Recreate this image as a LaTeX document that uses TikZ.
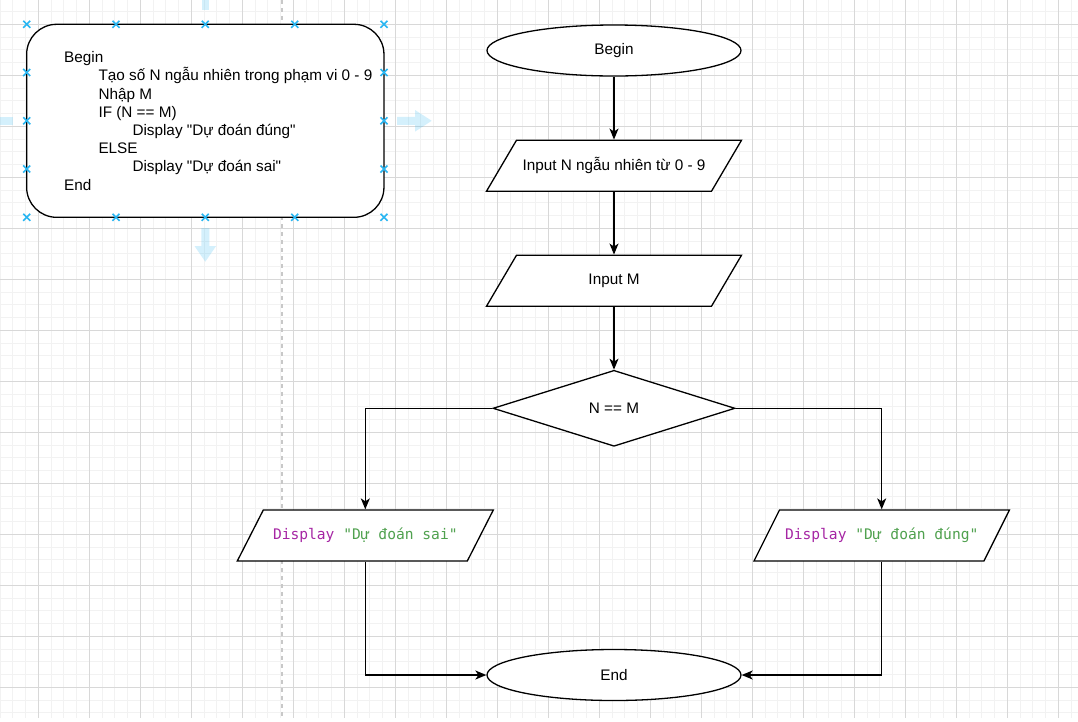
\documentclass[tikz,border=0pt]{standalone}
\usepackage{fontspec}
\setmainfont{Liberation Sans}[Ligatures=TeXOff]
\setmonofont{DejaVu Sans Mono}
\usetikzlibrary{shapes.geometric,arrows.meta}

\definecolor{gridminor}{RGB}{242,242,242}
\definecolor{gridmajor}{RGB}{216,216,216}
\definecolor{pagebreak}{RGB}{200,200,200}
\definecolor{selblue}{RGB}{41,182,242}
\definecolor{kwpurple}{RGB}{166,38,164}
\definecolor{strgreen}{RGB}{80,161,79}

\tikzset{
  every node/.style={font=\fontsize{15.3pt}{18.2pt}\selectfont},
  shapeline/.style={draw=black, line width=1.3pt, line join=miter},
  termnode/.style={shapeline, ellipse, fill=white, minimum width=254pt, minimum height=51pt, inner sep=0pt},
  decnode/.style={shapeline, diamond, fill=white, minimum width=242pt, minimum height=76pt, inner sep=0pt},
  paratext/.style={minimum height=51pt, inner sep=0pt, outer sep=0.65pt},
  conn/.style={draw=black, line width=1.3pt, -{Stealth[length=11pt,width=9pt,inset=3pt]}},
  linetext/.style={anchor=base west, inner sep=0pt},
  selcross/.style={draw=selblue, line width=1.6pt},
  hoverarrow/.style={fill=selblue, fill opacity=0.2},
}

% parallelogram (input/output box): name, centre, half width, slant, text
\newcommand{\flowpara}[5]{%
  \filldraw[shapeline, fill=white]
    ([shift={(-#3,25.5)}]#2) -- ([shift={(-#3+#4,-25.5)}]#2) --
    ([shift={(#3,-25.5)}]#2) -- ([shift={(#3-#4,25.5)}]#2) -- cycle;
  \node[paratext, minimum width=#3*2pt] (#1) at (#2) {#5};
}
\newcommand{\codeline}[2]{{\ttfamily\fontsize{14.6pt}{18pt}\selectfont\textcolor{kwpurple}{#1} \textcolor{strgreen}{#2}}}

\begin{document}
\begin{tikzpicture}[x=1pt, y=-1pt]
\useasboundingbox (0,0) rectangle (1078,721);
\fill[white] (0,0) rectangle (1078,721);

% canvas grid
\begin{scope}
  \clip (0,0) rectangle (1078,718);
  \foreach \i in {-3,...,81} {
    \pgfmathsetmacro\gx{38.3+12.75*\i}
    \draw[gridminor, line width=1pt] (\gx,0) -- (\gx,718);
  }
  \foreach \j in {-1,...,54} {
    \pgfmathsetmacro\gy{24.3+12.75*\j}
    \draw[gridminor, line width=1pt] (0,\gy) -- (1078,\gy);
  }
  \foreach \i in {0,...,20} {
    \pgfmathsetmacro\gx{38.3+51*\i}
    \draw[gridmajor, line width=1pt] (\gx,0) -- (\gx,718);
  }
  \foreach \j in {0,...,13} {
    \pgfmathsetmacro\gy{24.3+51*\j}
    \draw[gridmajor, line width=1pt] (0,\gy) -- (1078,\gy);
  }
\end{scope}

% page break
\draw[pagebreak, line width=1.5pt, dash pattern=on 4pt off 4pt] (282,0) -- (282,718);

% hover arrows around the selected box
\fill[hoverarrow] (201.5,0) rectangle (208.5,10);
\fill[hoverarrow] (0,116.8) rectangle (12.7,124.8);
\fill[hoverarrow] (397,116.8) -- (415,116.8) -- (415,110) -- (431.7,120.8)
  -- (415,131.6) -- (415,124.8) -- (397,124.8) -- cycle;
\fill[hoverarrow] (201.3,228) -- (201.3,246) -- (194.5,246) -- (205.3,261.7)
  -- (216.1,246) -- (209.3,246) -- (209.3,228) -- cycle;

% pseudocode box
\node[draw=black, line width=1.3pt, fill=white, rounded corners=30pt,
      minimum width=357.3pt, minimum height=193pt, inner sep=0pt] (pseudo) at (205.3,120.8) {};
\node[linetext] (pl1) at (64,62.7)   {Begin};
\node[linetext] (pl2) at (98.3,80.9) {Tạo số N ngẫu nhiên trong phạm vi 0 - 9};
\node[linetext] (pl3) at (98.3,99.1) {Nhập M};
\node[linetext] (pl4) at (98.3,117.3) {IF (N == M)};
\node[linetext] (pl5) at (132.3,135.5) {Display "Dự đoán đúng"};
\node[linetext] (pl6) at (98.3,153.7) {ELSE};
\node[linetext] (pl7) at (132.3,171.9) {Display "Dự đoán sai"};
\node[linetext] (pl8) at (64,190.1)   {End};

% selection handles
\foreach \px/\py in {26.7/24.3, 116/24.3, 205.3/24.3, 294.7/24.3, 384/24.3,
                     26.7/217.3, 116/217.3, 205.3/217.3, 294.7/217.3, 384/217.3,
                     26.7/72.5, 26.7/120.8, 26.7/169, 384/72.5, 384/120.8, 384/169} {
  \draw[selcross] (\px-3.5,\py-3.5) -- (\px+3.5,\py+3.5);
  \draw[selcross] (\px-3.5,\py+3.5) -- (\px+3.5,\py-3.5);
}

% flowchart
\node[termnode] (begin) at (614,50.5) {Begin};
\flowpara{inN}{614,165.7}{127.5}{30}{Input N ngẫu nhiên từ 0 - 9}
\flowpara{inM}{614,280.7}{127.5}{30}{Input M}
\node[decnode] (cmp) at (614,408.3) {N == M};
\flowpara{outSai}{365.3,535.5}{128}{26}{\codeline{Display}{"Dự đoán sai"}}
\flowpara{outDung}{881.7,535.5}{127.7}{25.5}{\codeline{Display}{"Dự đoán đúng"}}
\node[termnode] (end) at (614,675) {End};

\draw[conn] (begin.south) -- (inN.north);
\draw[conn] (inN.south) -- (inM.north);
\draw[conn] (inM.south) -- (cmp.north);
\draw[conn] (cmp.west) -| (outSai.north);
\draw[conn] (cmp.east) -| (outDung.north);
\draw[conn] (outSai.south) |- (end.west);
\draw[conn] (outDung.south) |- (end.east);
\end{tikzpicture}
\end{document}
